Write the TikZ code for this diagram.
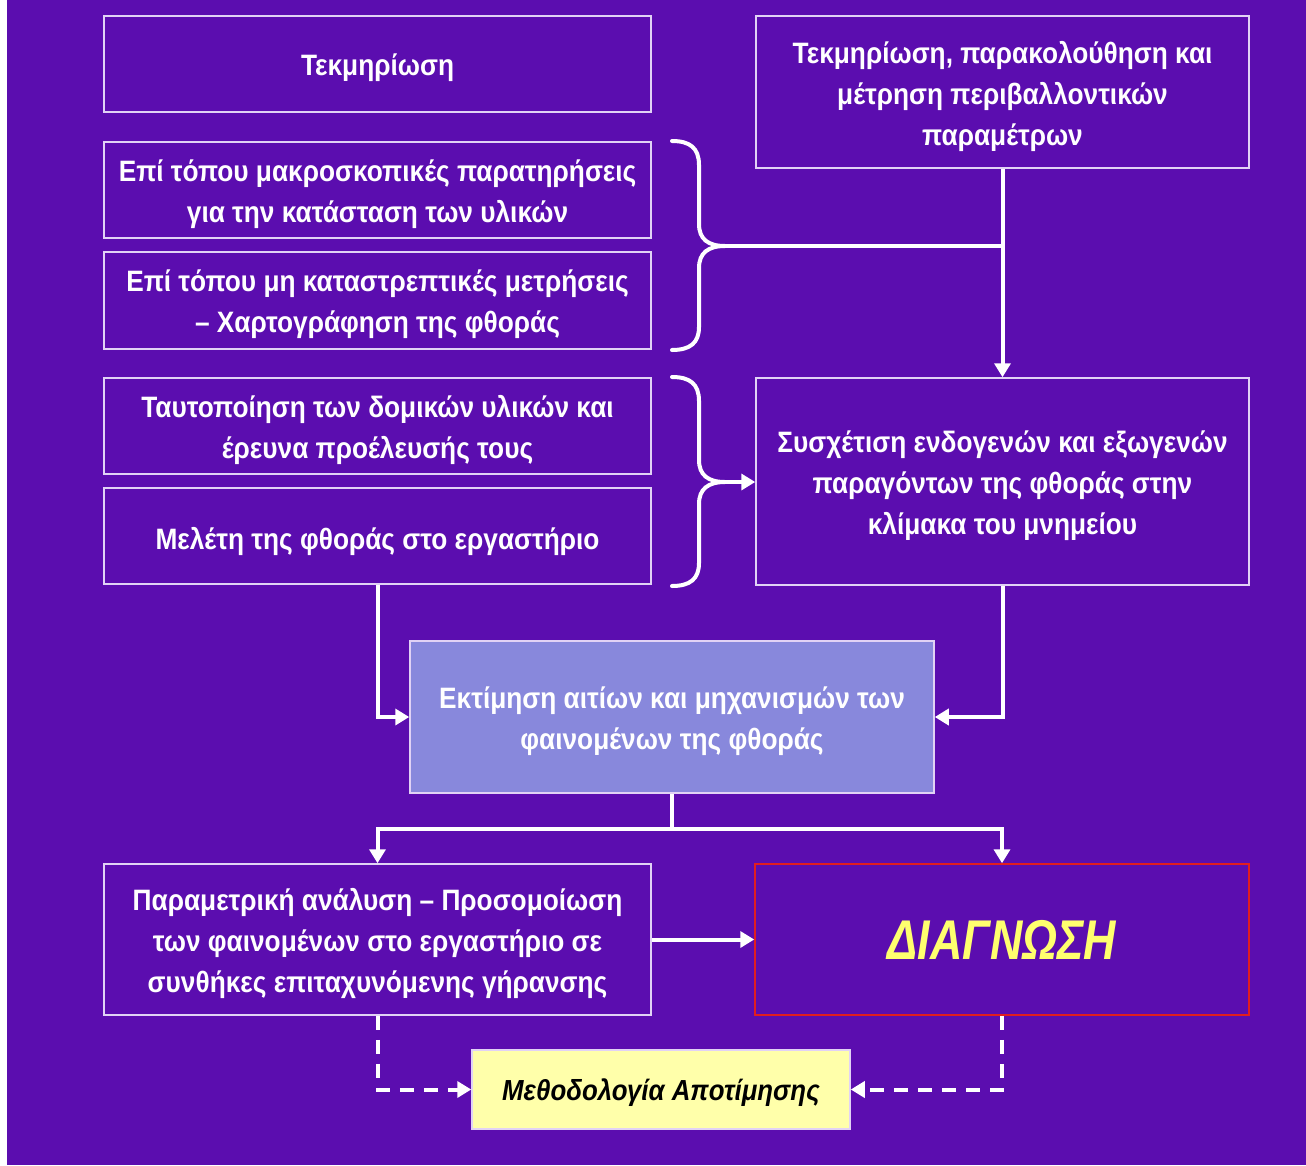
\documentclass[tikz,border=0pt]{standalone}
\usepackage{fontspec}
\setmainfont{Liberation Sans}[FakeStretch=0.89]
\newfontfamily\diagfont{Liberation Sans}[FakeStretch=0.8]
\usetikzlibrary{arrows.meta}
\definecolor{bgpurple}{RGB}{91,13,175}
\definecolor{boxline}{RGB}{225,210,245}
\definecolor{midfill}{RGB}{136,136,220}
\definecolor{diagred}{RGB}{225,30,30}
\definecolor{diagyellow}{RGB}{255,255,110}
\definecolor{methfill}{RGB}{255,255,170}
\tikzset{
  box/.style={draw=boxline, line width=1.5pt, inner sep=0pt,
    minimum width=547pt, minimum height=96pt},
  txt/.style={text=white, align=center, inner sep=0pt,
    font=\bfseries\fontsize{29.5}{41}\selectfont},
  conn/.style={draw=white, line width=4pt,
    -{Triangle[length=14pt,width=16pt]}},
  plainline/.style={draw=white, line width=4pt},
  dashconn/.style={draw=white, line width=4pt, dash pattern=on 14pt off 10pt,
    -{Triangle[length=14pt,width=16pt]}},
  bracepath/.style={draw=white, line width=4pt, line cap=round}
}
\begin{document}
\begin{tikzpicture}[x=1pt,y=-1pt]
\useasboundingbox (0,0) rectangle (1306,1165);
\fill[white] (0,0) rectangle (1306,1165);
\fill[bgpurple] (7,0) rectangle (1306,1165);

\node[box] (b1) at (377.5,64) {};
\node[box, minimum width=493pt, minimum height=152pt] (b2) at (1002.5,92) {};
\node[box] (b3) at (377.5,190) {};
\node[box, minimum height=97pt] (b4) at (377.5,300.5) {};
\node[box] (b5) at (377.5,426) {};
\node[box] (b6) at (377.5,536) {};
\node[box, minimum width=493pt, minimum height=207pt] (b7) at (1002.5,481.5) {};
\node[box, fill=midfill, minimum width=524pt, minimum height=152pt] (b8) at (672,717) {};
\node[box, minimum height=151pt] (b9) at (377.5,939.5) {};
\node[box, draw=diagred, minimum width=494pt, minimum height=151pt] (b10) at (1002,939.5) {};
\node[box, fill=methfill, minimum width=378pt, minimum height=79pt] (b11) at (661,1089.5) {};

\node[txt] (t1) at ([yshift=-4pt]b1.center) {Τεκμηρίωση};
\node[txt] (t2) at ([yshift=-4pt]b2.center) {Τεκμηρίωση, παρακολούθηση και\\μέτρηση περιβαλλοντικών\\παραμέτρων};
\node[txt] (t3) at ([yshift=-4pt]b3.center) {Επί τόπου μακροσκοπικές παρατηρήσεις\\για την κατάσταση των υλικών};
\node[txt] (t4) at ([yshift=-4pt]b4.center) {Επί τόπου μη καταστρεπτικές μετρήσεις\\– Χαρτογράφηση της φθοράς};
\node[txt] (t5) at ([yshift=-4pt]b5.center) {Ταυτοποίηση των δομικών υλικών και\\έρευνα προέλευσής τους};
\node[txt] (t6) at ([yshift=-5pt]b6.center) {Μελέτη της φθοράς στο εργαστήριο};
\node[txt] (t7) at ([yshift=-4pt]b7.center) {Συσχέτιση ενδογενών και εξωγενών\\παραγόντων της φθοράς στην\\κλίμακα του μνημείου};
\node[txt] (t8) at ([yshift=-4pt]b8.center) {Εκτίμηση αιτίων και μηχανισμών των\\φαινομένων της φθοράς};
\node[txt] (t9) at ([yshift=-4pt]b9.center) {Παραμετρική ανάλυση – Προσομοίωση\\των φαινομένων στο εργαστήριο σε\\συνθήκες επιταχυνόμενης γήρανσης};
\node[txt, text=diagyellow, font=\diagfont\bfseries\itshape\fontsize{56}{60}\selectfont] (t10) at (b10.center) {ΔΙΑΓΝΩΣΗ};
\node[txt, text=black, font=\bfseries\itshape\fontsize{29}{34}\selectfont] (t11) at ([yshift=-3pt]b11.center) {Μεθοδολογία Αποτίμησης};

% braces
\coordinate (br1) at (725,246);
\coordinate (br2) at (725,482);
\draw[bracepath] (672,141) .. controls (690,141) and (699,148) .. (699,165) -- (699,224)
  .. controls (699,239) and (708,246) .. (br1)
  .. controls (708,246) and (699,253) .. (699,268) -- (699,327)
  .. controls (699,343) and (690,350) .. (672,350);
\draw[bracepath] (672,377) .. controls (690,377) and (699,384) .. (699,401) -- (699,460)
  .. controls (699,475) and (708,482) .. (br2)
  .. controls (708,482) and (699,489) .. (699,504) -- (699,563)
  .. controls (699,579) and (690,586) .. (672,586);

% connectors
\draw[conn] (b2.south) -- (b7.north);
\draw[plainline] (br1) -- (br1 -| b2.south);
\draw[conn] (br2) -- (br2 -| b7.west);
\draw[conn] (b6.south) |- (b8.west);
\draw[conn] (b7.south) |- (b8.east);
\draw[plainline] (b8.south) -- ++(0,35) coordinate (split);
\draw[conn] (split) -| (b9.north);
\draw[conn] (split) -| (b10.north);
\draw[conn] (b9.east) -- (b10.west);
\draw[dashconn] (b9.south) |- (b11.west);
\draw[dashconn] (b10.south) |- (b11.east);
\end{tikzpicture}
\end{document}
